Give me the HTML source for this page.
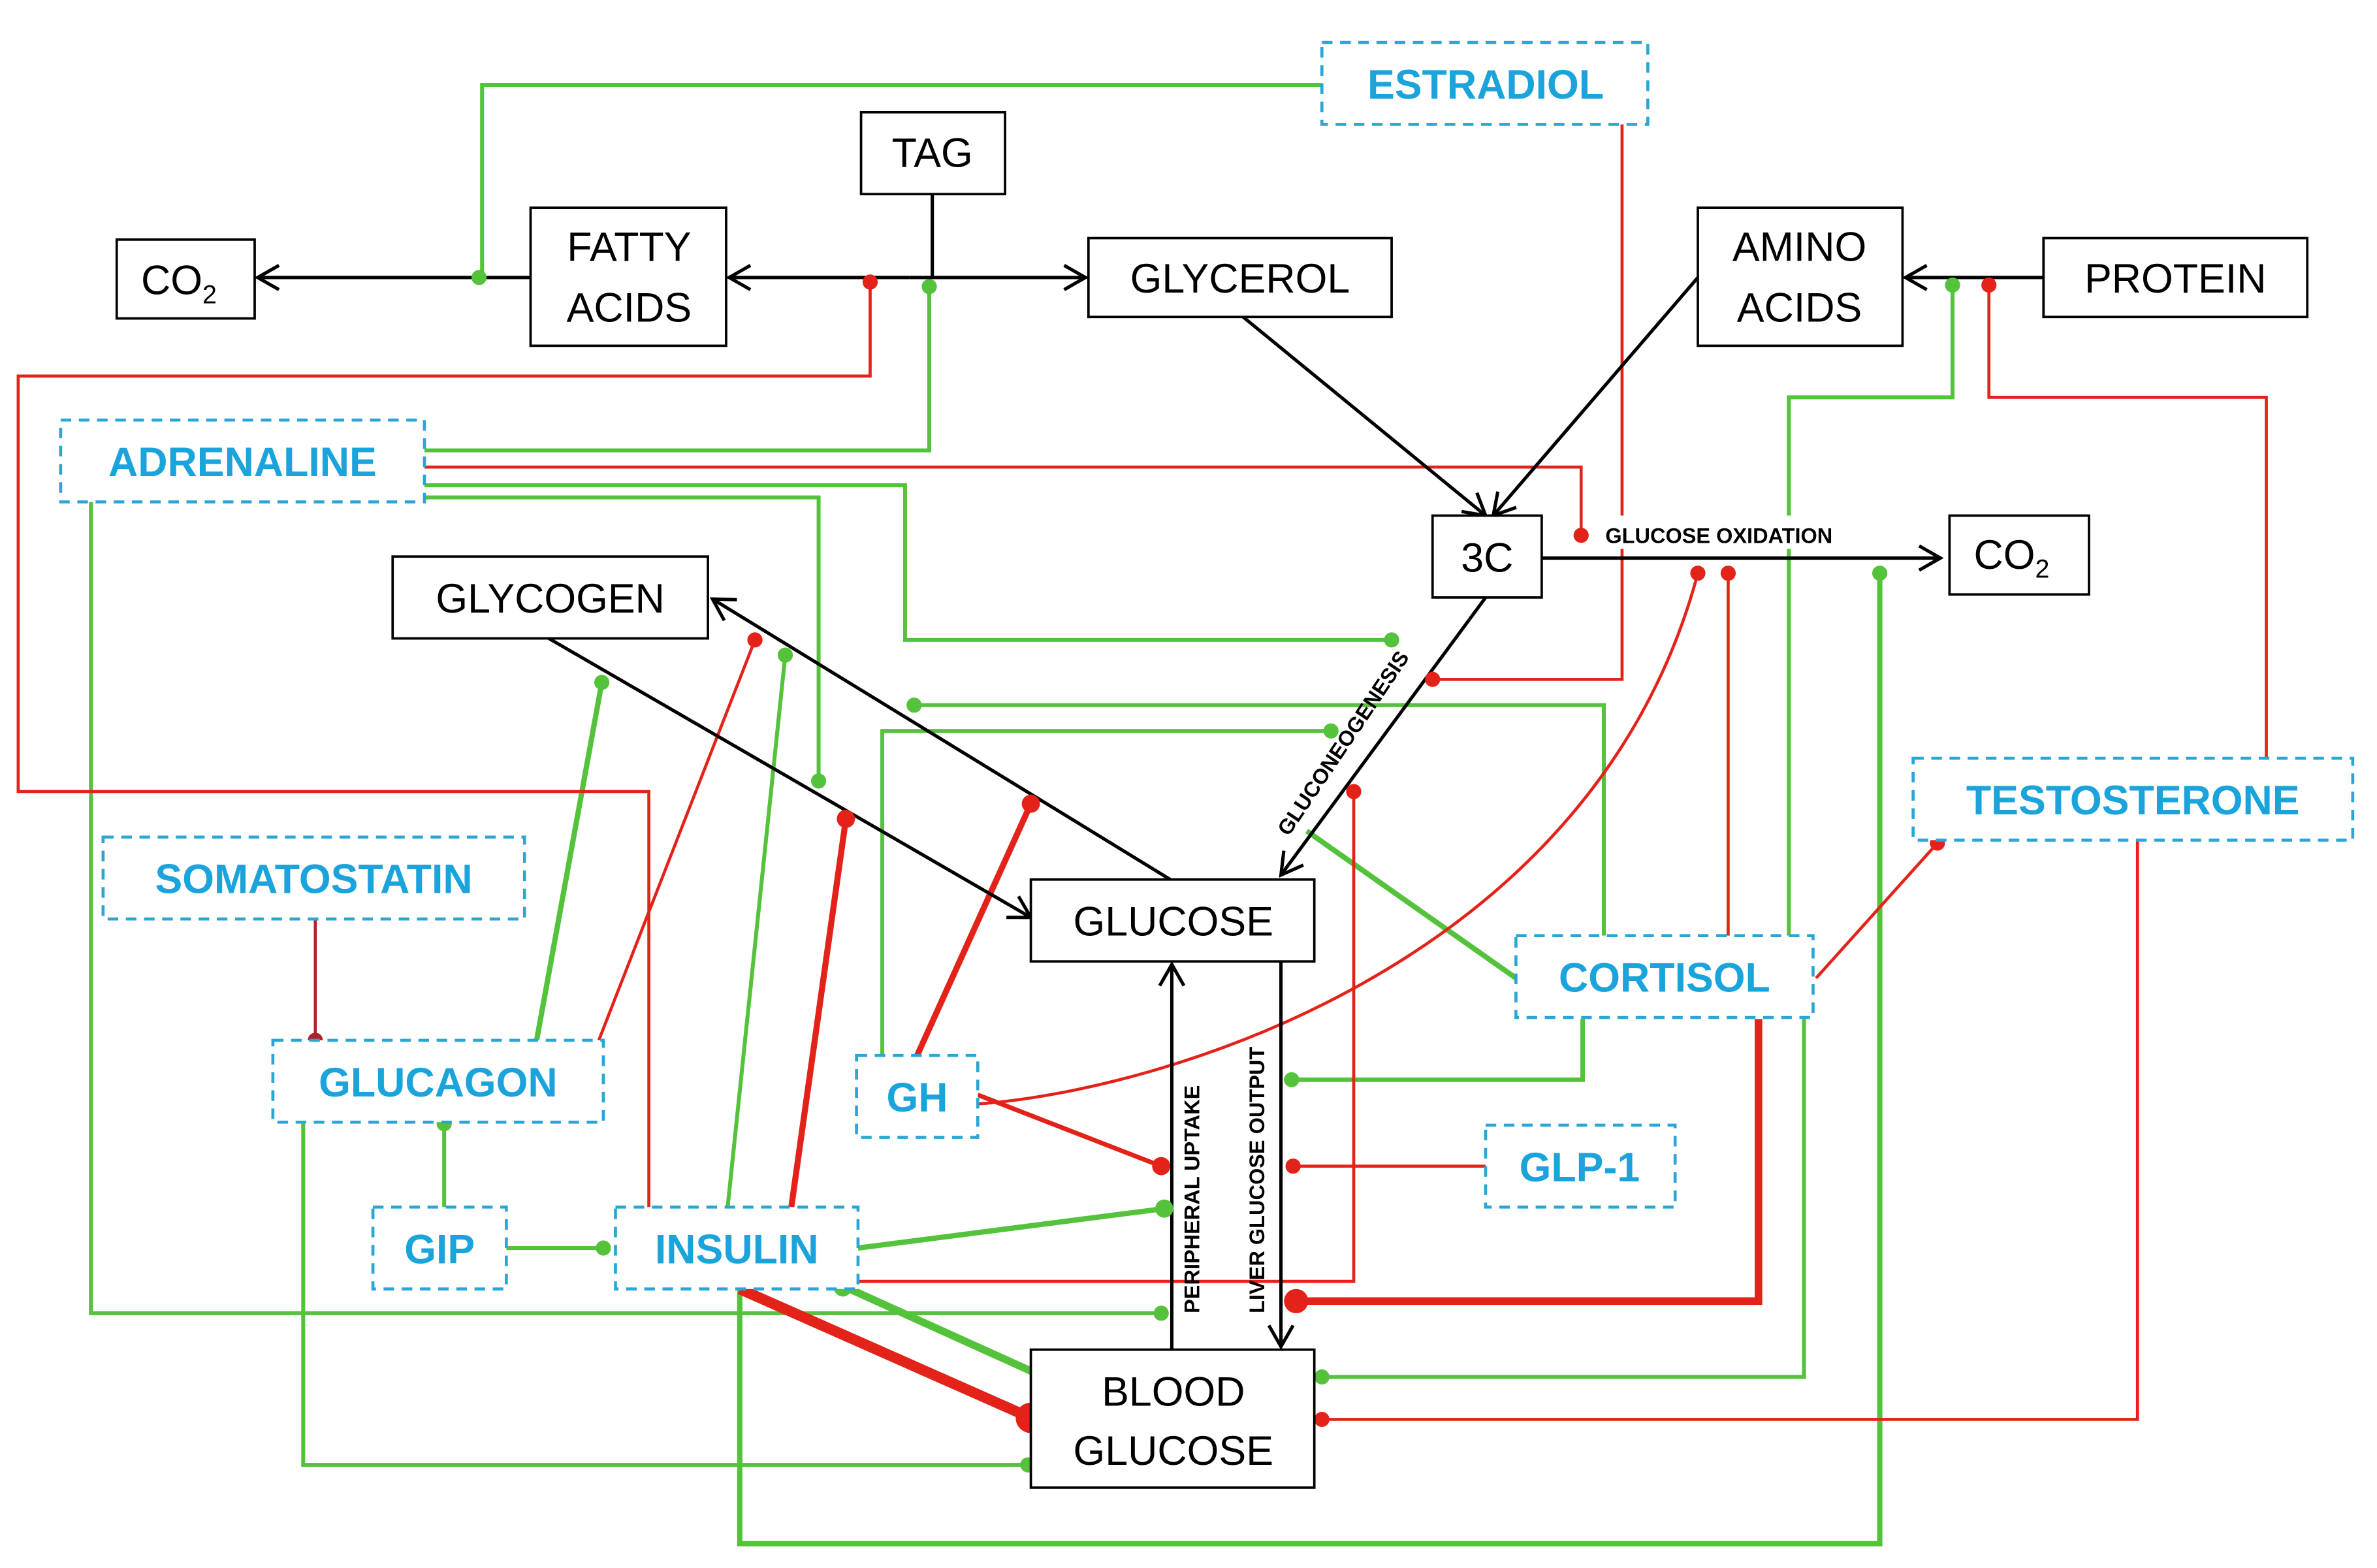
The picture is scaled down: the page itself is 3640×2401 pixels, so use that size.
<!DOCTYPE html>
<html><head><meta charset="utf-8"><style>
html,body{margin:0;padding:0;background:#fff;}
svg{display:block}
.b{fill:#fff;stroke:#000;stroke-width:1.6}
.d{fill:#fff;stroke:#2aa6d6;stroke-width:2;stroke-dasharray:7 5}
.t{font-family:"Liberation Sans",sans-serif;font-size:27px;fill:#000;text-anchor:middle}
.h{font-family:"Liberation Sans",sans-serif;font-size:27px;font-weight:bold;fill:#1ba3dc;text-anchor:middle}
.s{font-family:"Liberation Sans",sans-serif;font-size:14px;font-weight:bold;fill:#000}
.k{stroke:#000;stroke-width:2.2;fill:none}
.g{stroke:#55c23c;stroke-width:2.6;fill:none}
.r{stroke:#e32219;stroke-width:2;fill:none}
.gd{fill:#55c23c}.rd{fill:#e32219}
</style></head><body>
<svg width="3640" height="2401" viewBox="0 0 1568 1034" preserveAspectRatio="none" xmlns="http://www.w3.org/2000/svg">
<defs><marker id="a" markerWidth="10" markerHeight="10" refX="9" refY="5" orient="auto" markerUnits="userSpaceOnUse"><path d="M0,0 L10,5 L0,10" fill="none" stroke="#000" stroke-width="2"/></marker>
<marker id="a2" markerWidth="18" markerHeight="18" refX="16" refY="9" orient="auto" markerUnits="userSpaceOnUse"><path d="M2,1 L16,9 L2,17" fill="none" stroke="#000" stroke-width="2.2"/></marker></defs>
<!-- green lines -->
<path class="g" d="M872,56 H318 V183"/>
<path class="g" d="M280,297 H613 V188"/>
<path class="g" d="M280,320 H597 V422 H918"/>
<path class="g" d="M280,328 H540 V515"/>
<path class="g" d="M60,331 V866 H766"/>
<path class="g" d="M354,686 L397,450" style="stroke-width:3.5"/>
<path class="g" d="M200,741 V966 H678"/>
<path class="g" d="M293,796 V741"/>
<path class="g" d="M334,823 H398"/>
<path class="g" d="M480,796 L518,432"/>
<path class="g" d="M566,823 L768,797" style="stroke-width:3.5"/>
<path class="g" d="M556,848 L682,905" style="stroke-width:5"/>
<path class="g" d="M488,850 V1018 H1240 V378" style="stroke-width:3.5"/>
<path class="g" d="M582,696 V482 H878"/>
<path class="g" d="M603,465 H1058 V617"/>
<path class="g" d="M862,548 L1000,645" style="stroke-width:3.5"/>
<path class="g" d="M1044,672 V712 H852" style="stroke-width:3"/>
<path class="g" d="M1190,672 V908 H872"/>
<path class="g" d="M1180,617 V262 H1288 V188"/>
<!-- red lines -->
<path class="r" d="M1070,82 V448 H945"/>
<path class="r" d="M574,186 V248 H12 V522 H428 V796"/>
<path class="r" d="M280,308 H1043 V353"/>
<path class="r" d="M395,686 L498,422"/>
<path class="r" d="M522,796 L558,540" style="stroke-width:4"/>
<path class="r" d="M605,696 L680,530" style="stroke-width:4"/>
<path class="r" d="M645,722 L766,769" style="stroke-width:3"/>
<path class="r" d="M645,728 C760,720 1050,640 1120,378"/>
<path class="r" d="M566,845 H893 V522"/>
<path class="r" d="M488,850 L680,935" style="stroke-width:7"/>
<path class="r" d="M1140,617 V378"/>
<path class="r" d="M1160,672 V858 H855" style="stroke-width:5"/>
<path class="r" d="M1198,645 L1278,556"/>
<path class="r" d="M980,769 H853"/>
<path class="r" d="M1410,554 V936 H872"/>
<path class="r" d="M1495,500 V262 H1312 V188"/>
<path d="M208,606 V686" stroke="#b0202a" stroke-width="2"/>
<!-- black arrows -->
<path class="k" d="M350,183 H170" marker-end="url(#a2)"/>
<path class="k" d="M600,183 H481" marker-end="url(#a2)"/>
<path class="k" d="M600,183 H716" marker-end="url(#a2)"/>
<path class="k" d="M615,128 V183"/>
<path class="k" d="M820,209 L980,340" marker-end="url(#a2)"/>
<path class="k" d="M1120,183 L985,340" marker-end="url(#a2)"/>
<path class="k" d="M1348,183 H1257" marker-end="url(#a2)"/>
<path class="k" d="M1017,368 H1280" marker-end="url(#a2)"/>
<path class="k" d="M980,394 L845,577" marker-end="url(#a2)"/>
<path class="k" d="M772,580 L470,395" marker-end="url(#a2)"/>
<path class="k" d="M362,421 L680,605" marker-end="url(#a2)"/>
<path class="k" d="M773,890 V636" marker-end="url(#a2)"/>
<path class="k" d="M845,634 V888" marker-end="url(#a2)"/>
<!-- dots -->
<g class="gd"><circle cx="316" cy="183" r="5"/><circle cx="613" cy="189" r="5"/><circle cx="918" cy="422" r="5"/><circle cx="540" cy="515" r="5"/><circle cx="766" cy="866" r="5"/><circle cx="397" cy="450" r="5"/><circle cx="678" cy="966" r="5"/><circle cx="293" cy="741" r="5"/><circle cx="398" cy="823" r="5"/><circle cx="518" cy="432" r="5"/><circle cx="768" cy="797" r="6"/><circle cx="556" cy="849" r="6"/><circle cx="1240" cy="378" r="5"/><circle cx="878" cy="482" r="5"/><circle cx="603" cy="465" r="5"/><circle cx="852" cy="712" r="5"/><circle cx="872" cy="908" r="5"/><circle cx="1288" cy="188" r="5"/></g>
<g class="rd"><circle cx="574" cy="186" r="5"/><circle cx="945" cy="448" r="5"/><circle cx="1043" cy="353" r="5"/><circle cx="498" cy="422" r="5"/><circle cx="558" cy="540" r="6"/><circle cx="680" cy="530" r="6"/><circle cx="766" cy="769" r="6"/><circle cx="1120" cy="378" r="5"/><circle cx="893" cy="522" r="5"/><circle cx="680" cy="935" r="10"/><circle cx="1140" cy="378" r="5"/><circle cx="855" cy="858" r="8"/><circle cx="1278" cy="556" r="5"/><circle cx="853" cy="769" r="5"/><circle cx="872" cy="936" r="5"/><circle cx="1312" cy="188" r="5"/><circle cx="208" cy="686" r="5" fill="#b0202a"/></g>
<!-- boxes -->
<rect class="b" x="568" y="74" width="95" height="54"/><text class="t" x="615" y="110">TAG</text>
<rect class="b" x="77" y="158" width="91" height="52"/><text class="t" x="118" y="194">CO<tspan font-size="17" dy="6">2</tspan></text>
<rect class="b" x="350" y="137" width="129" height="91"/><text class="t" x="415" y="172">FATTY</text><text class="t" x="415" y="212">ACIDS</text>
<rect class="b" x="718" y="157" width="200" height="52"/><text class="t" x="818" y="193">GLYCEROL</text>
<rect class="b" x="1120" y="137" width="135" height="91"/><text class="t" x="1187" y="172">AMINO</text><text class="t" x="1187" y="212">ACIDS</text>
<rect class="b" x="1348" y="157" width="174" height="52"/><text class="t" x="1435" y="193">PROTEIN</text>
<rect class="b" x="945" y="340" width="72" height="54"/><text class="t" x="981" y="377">3C</text>
<rect class="b" x="1286" y="340" width="92" height="52"/><text class="t" x="1327" y="375">CO<tspan font-size="17" dy="6">2</tspan></text>
<rect class="b" x="259" y="367" width="208" height="54"/><text class="t" x="363" y="404">GLYCOGEN</text>
<rect class="b" x="680" y="580" width="187" height="54"/><text class="t" x="774" y="617">GLUCOSE</text>
<rect class="b" x="680" y="890" width="187" height="91"/><text class="t" x="774" y="927">BLOOD</text><text class="t" x="774" y="966">GLUCOSE</text>
<!-- hormone boxes -->
<rect class="d" x="872" y="28" width="215" height="54"/><text class="h" x="980" y="65">ESTRADIOL</text>
<rect class="d" x="40" y="277" width="240" height="54"/><text class="h" x="160" y="314">ADRENALINE</text>
<rect class="d" x="68" y="552" width="278" height="54"/><text class="h" x="207" y="589">SOMATOSTATIN</text>
<rect class="d" x="180" y="686" width="218" height="54"/><text class="h" x="289" y="723">GLUCAGON</text>
<rect class="d" x="246" y="796" width="88" height="54"/><text class="h" x="290" y="833">GIP</text>
<rect class="d" x="406" y="796" width="160" height="54"/><text class="h" x="486" y="833">INSULIN</text>
<rect class="d" x="565" y="696" width="80" height="54"/><text class="h" x="605" y="733">GH</text>
<rect class="d" x="1000" y="617" width="196" height="54"/><text class="h" x="1098" y="654">CORTISOL</text>
<rect class="d" x="980" y="742" width="125" height="54"/><text class="h" x="1042" y="779">GLP-1</text>
<rect class="d" x="1262" y="500" width="290" height="54"/><text class="h" x="1407" y="537">TESTOSTERONE</text>
<!-- small labels -->
<rect x="1055" y="340" width="200" height="22" fill="#fff"/>
<text class="s" x="1059" y="358">GLUCOSE OXIDATION</text>
<text class="s" transform="translate(850,552) rotate(-56)">GLUCONEOGENESIS</text>
<text class="s" transform="translate(791,866) rotate(-90)" font-size="15">PERIPHERAL  UPTAKE</text>
<text class="s" transform="translate(834,866) rotate(-90)" font-size="15">LIVER GLUCOSE OUTPUT</text>
</svg>
</body></html>
